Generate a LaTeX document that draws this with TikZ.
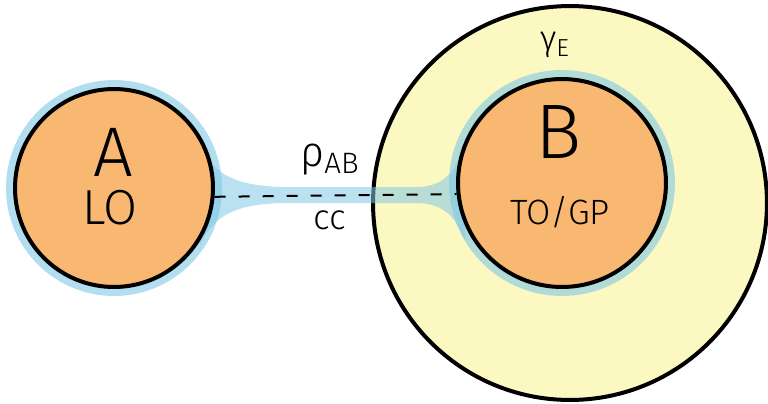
\documentclass[tikz,border=0pt]{standalone}
\usepackage{fontspec}
\setmainfont{Fira Sans Light}
\usetikzlibrary{positioning, calc}

\definecolor{lobe}{RGB}{248,184,114}
\definecolor{envfill}{RGB}{252,248,194}
\definecolor{halo}{RGB}{128,200,230}

\begin{document}
\begin{tikzpicture}[x=0.02cm, y=-0.02cm,
        lobe/.style={circle, draw, line width=0.08cm, fill=lobe, inner sep=0pt},
        env/.style={circle, draw, line width=0.08cm, fill=envfill, inner sep=0pt, minimum size=7.88cm},
        glow/.style={draw=halo, line width=0.28cm, opacity=0.6},
        neck/.style={fill=halo, opacity=0.55},
        bond/.style={line width=0.04cm, dash pattern=on 0.22cm off 0.26cm},
        tag/.style={font=\fontsize{20}{22}\selectfont}
    ]
    \useasboundingbox (0,0) rectangle (768,403);

    % Centres
    \coordinate (cA) at (114,188);
    \coordinate (cB) at (562,183);

    % Environment
    \node[env] (E) at (570,203) {};
    \node[tag] (gE) at (555,45) {γ\textsubscript{E}};

    % Glow round the lobes and along the bond
    \draw[glow] (cA) circle[radius=2.02cm];
    \draw[glow] (cB) circle[radius=2.12cm];
    \fill[neck] (200,145) .. controls (215,178) and (240,185) .. (280,187)
        -- (420,187) .. controls (445,185) and (455,172) .. (465,145)
        -- (465,240) .. controls (455,217) and (445,205) .. (420,203)
        -- (280,203) .. controls (240,205) and (215,212) .. (200,245) -- cycle;

    % Lobes
    \node[lobe, minimum size=3.96cm] (A) at (cA) {};
    \node[lobe, minimum size=4.16cm] (B) at (cB) {};

    % Labels
    \node[font=\fontsize{40}{44}\selectfont] (lA) at (113,152) {A};
    \node[font=\fontsize{28}{30}\selectfont] (nA) at (110,208) {LO};
    \node[font=\fontsize{44}{48}\selectfont] (lB) at (559,132) {B};
    \node[tag] (nB) at (560,212) {TO/GP};

    % Bond
    \draw[bond] (A.-5) -- (B.186);
    \node[font=\fontsize{24}{26}\selectfont] (rho) at (330,160) {ρ\textsubscript{AB}};
    \node[tag] (cc) at (330,220) {cc};
\end{tikzpicture}
\end{document}
